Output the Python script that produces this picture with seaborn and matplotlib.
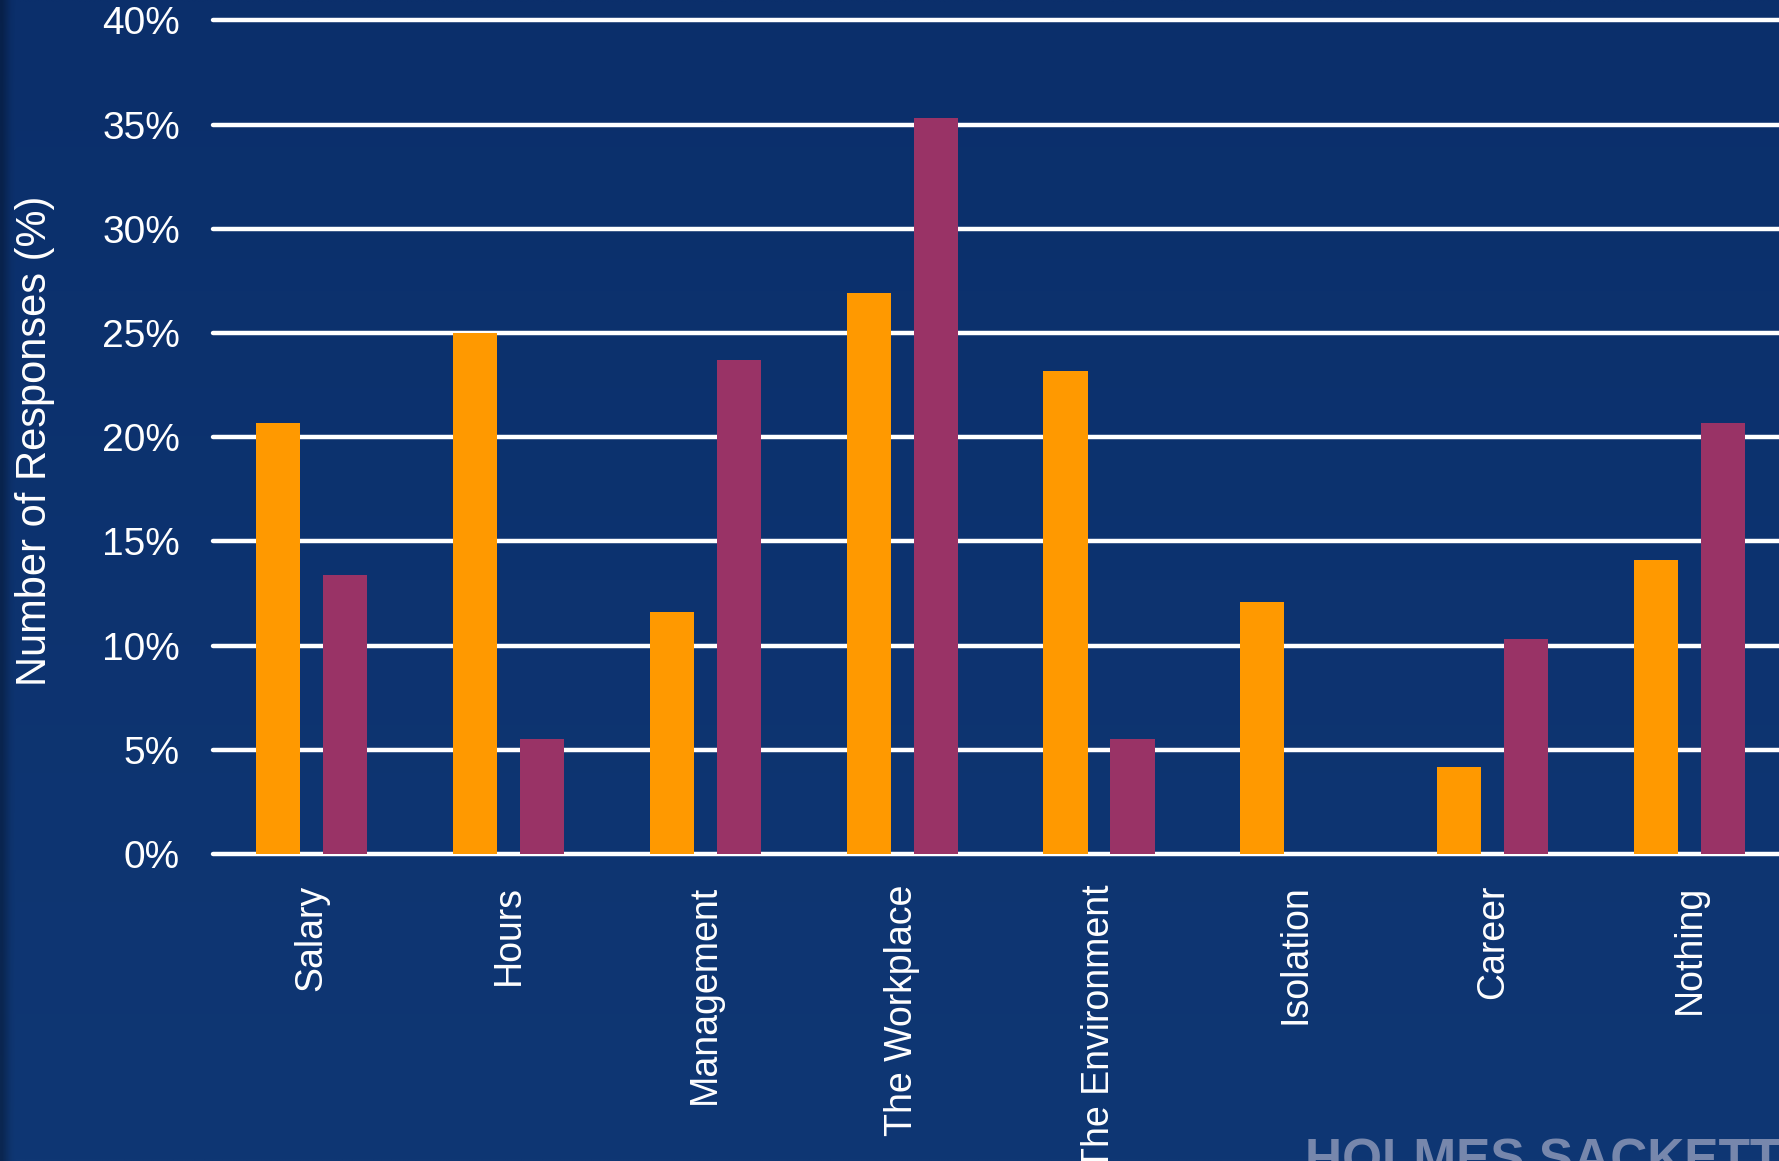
import numpy as np
import pandas as pd
import matplotlib
matplotlib.use("Agg")
import matplotlib.pyplot as plt
import seaborn as sns

categories = ["Salary", "Hours", "Management", "The Workplace",
              "The Environment", "Isolation", "Career", "Nothing"]
series_a = [20.7, 25.0, 11.6, 26.9, 23.2, 12.1, 4.2, 14.1]
series_b = [13.4, 5.5, 23.7, 35.3, 5.5, 0.0, 10.3, 20.7]
series_names = ["Series 1", "Series 2"]
y_ticks = [0, 5, 10, 15, 20, 25, 30, 35, 40]
y_tick_labels = ["0%", "5%", "10%", "15%", "20%", "25%", "30%", "35%", "40%"]

df = pd.DataFrame({
    "Category": categories * 2,
    "Value": series_a + series_b,
    "Series": [series_names[0]] * len(categories) + [series_names[1]] * len(categories),
})

sns.set_theme(style="white")
plt.rcParams["font.family"] = ["Liberation Sans", "DejaVu Sans"]

fig = plt.figure(figsize=(17.79, 11.61), dpi=100)
fig.patch.set_facecolor("#0b2f6b")

# background gradient
bg = fig.add_axes([0, 0, 1, 1], zorder=-10)
grad = np.linspace(0, 1, 256).reshape(-1, 1)
top = np.array([0x0b, 0x2f, 0x6b]) / 255
bot = np.array([0x0f, 0x37, 0x74]) / 255
img = top + (bot - top) * grad[..., None]
img = np.repeat(img, 400, axis=1)
xs = np.linspace(0, 1, 400)
shade = np.clip(0.7 + xs / 0.006 * 0.3, 0.7, 1.0)
img = img * shade[None, :, None]
bg.imshow(img, aspect="auto", extent=[0, 1, 0, 1], origin="upper", interpolation="bilinear")
bg.set_axis_off()

ax = fig.add_axes([0.1199, 0.2644, 0.8851, 0.718])
ax.set_facecolor("none")

sns.barplot(data=df, x="Category", y="Value", hue="Series",
            palette=["#FF9900", "#993366"], width=0.68, gap=0.34,
            legend=False, ax=ax, saturation=1.0, edgecolor="none")

ax.set_ylim(0, 40)
ax.set_xlim(-0.5, len(categories) - 0.5)
ax.set_yticks(y_ticks)
ax.set_yticklabels(y_tick_labels)
ax.set_axisbelow(True)
ax.yaxis.grid(True, color="white", linewidth=3.2)
for gl in ax.get_ygridlines():
    gl.set_clip_on(False)
ax.xaxis.grid(False)
for s in ax.spines.values():
    s.set_visible(False)

ax.tick_params(axis="y", length=0, pad=24, labelsize=28, labelcolor="white")
ax.tick_params(axis="x", length=0, pad=22, labelsize=27, labelcolor="white")
for lab in ax.get_xticklabels():
    lab.set_rotation(90)
    lab.set_va("top")
    lab.set_ha("center")

ax.set_xlabel("")
ax.set_ylabel("Number of Responses (%)", fontsize=30, color="white")
ax.yaxis.set_label_coords(-0.1003, 0.4954)

fig.text(1305 / 1779, 1 - 1138 / 1161, "HOLMES SACKETT", ha="left", va="top",
         fontsize=37, fontweight="bold", color="#8391b3", alpha=0.9)

fig.savefig("out.png", dpi=100, facecolor=fig.get_facecolor())
